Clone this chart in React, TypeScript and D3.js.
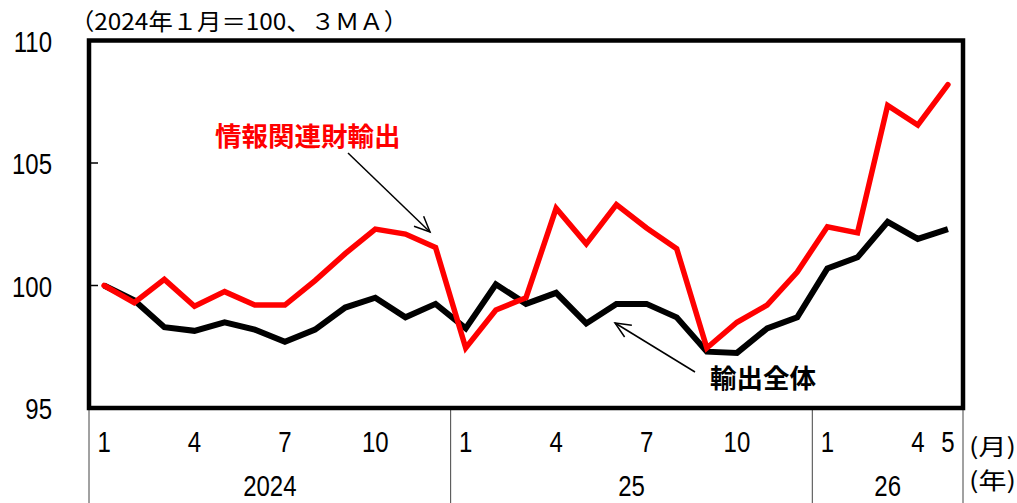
import React from "react";
import * as d3 from "d3";

const months = ["1","2","3","4","5","6","7","8","9","10","11","12","1","2","3","4","5","6","7","8","9","10","11","12","1","2","3","4","5"];
const years = ["2024","2024","2024","2024","2024","2024","2024","2024","2024","2024","2024","2024","25","25","25","25","25","25","25","25","25","25","25","25","26","26","26","26","26"];
const shownMonthLabels = [0, 3, 6, 9, 12, 15, 18, 21, 24, 27, 28];
const totalExports = [100, 99.4, 98.3, 98.15, 98.5, 98.2, 97.7, 98.2, 99.1, 99.5, 98.7, 99.25, 98.25, 100.05, 99.25, 99.7, 98.45, 99.25, 99.25, 98.7, 97.3, 97.25, 98.25, 98.7, 100.7, 101.15, 102.6, 101.9, 102.3];
const itExports = [100, 99.3, 100.25, 99.15, 99.75, 99.2, 99.2, 100.2, 101.3, 102.3, 102.1, 101.55, 97.45, 99.0, 99.5, 103.15, 101.7, 103.3, 102.35, 101.5, 97.45, 98.5, 99.2, 100.55, 102.4, 102.15, 107.35, 106.55, 108.2];
const yTicks = [95, 100, 105, 110];

const W = 1017, H = 503;
const L = 89, R = 963, T = 40.5, B = 408;
const FONT = "'Liberation Sans', Arial, sans-serif";
const CJK = "'Noto Sans CJK JP', sans-serif";

function NText({ x, y, anchor = "middle", size = 30, sx = 0.8, children }: any) {
  return (
    <text transform={`translate(${x},${y}) scale(${sx},1)`} textAnchor={anchor} fontFamily={FONT} fontSize={size} fill="#000">
      {children}
    </text>
  );
}

export default function App() {
  const idx = months.map((_, i) => i);
  const x = d3.scaleBand<number>().domain(idx).range([L, R]);
  const cx = (i: number) => (x(i) as number) + x.bandwidth() / 2;
  const y = d3.scaleLinear().domain([95, 110]).range([B, T]);
  const line = d3.line<number>().x((_, i) => cx(i)).y((v) => y(v));

  const groups: { name: string; start: number; end: number }[] = [];
  years.forEach((yr, i) => {
    const g = groups[groups.length - 1];
    if (g && g.name === yr) g.end = i;
    else groups.push({ name: yr, start: i, end: i });
  });
  const bounds = [L, ...groups.map((g) => (x(g.end) as number) + x.bandwidth())];

  const arrowHead = (x1: number, y1: number, x2: number, y2: number) => {
    const a = Math.atan2(y2 - y1, x2 - x1);
    const len = 17, sp = 0.42;
    const p1 = [x2 - len * Math.cos(a - sp), y2 - len * Math.sin(a - sp)];
    const p2 = [x2 - len * Math.cos(a + sp), y2 - len * Math.sin(a + sp)];
    return `M${p1[0]},${p1[1]}L${x2},${y2}L${p2[0]},${p2[1]}`;
  };

  return (
    <svg width={W} height={H} style={{ position: "absolute", left: 0, top: 0, background: "#fff" }}>
      <text x={70} y={30} fontFamily={CJK} fontSize={23} fill="#000" textLength={338} lengthAdjust="spacingAndGlyphs">（2024年１月＝100、３ＭＡ）</text>
      {yTicks.map((t) => (
        <g key={t}>
          <NText x={52} y={y(t) + 11} anchor="end">{t}</NText>
          <line x1={L} x2={L + 9} y1={y(t)} y2={y(t)} stroke="#000" strokeWidth={1.5} />
        </g>
      ))}
      {bounds.map((b, i) => (
        <line key={i} x1={b} x2={b} y1={B} y2={H} stroke="#444" strokeWidth={1} />
      ))}
      {shownMonthLabels.map((i) => (
        <NText key={i} x={cx(i)} y={452}>{months[i]}</NText>
      ))}
      {groups.map((g) => (
        <NText key={g.name} x={((x(g.start) as number) + (x(g.end) as number) + x.bandwidth()) / 2} y={496}>{g.name}</NText>
      ))}
      <text x={969} y={455} fontFamily={CJK} fontSize={23} fill="#000" textLength={47} lengthAdjust="spacingAndGlyphs">(月)</text>
      <text x={969} y={489} fontFamily={CJK} fontSize={23} fill="#000" textLength={47} lengthAdjust="spacingAndGlyphs">(年)</text>

      <path d={line(totalExports) || ""} fill="none" stroke="#000" strokeWidth={6} strokeLinejoin="miter" />
      <path d={line(itExports) || ""} fill="none" stroke="#ff0000" strokeWidth={5.5} strokeLinejoin="miter" strokeLinecap="round" />

      <rect x={L} y={T} width={R - L} height={B - T} fill="none" stroke="#000" strokeWidth={4.5} />

      <text x={215} y={146} fontFamily={CJK} fontWeight="bold" fontSize={26.5} fill="#ff0000">情報関連財輸出</text>
      <line x1={348} y1={153} x2={430} y2={232} stroke="#000" strokeWidth={1.5} />
      <path d={arrowHead(348, 153, 430, 232)} fill="none" stroke="#000" strokeWidth={1.5} />

      <text x={710} y={388} fontFamily={CJK} fontWeight="bold" fontSize={26.5} fill="#000">輸出全体</text>
      <line x1={695} y1={372} x2={615} y2={323} stroke="#000" strokeWidth={1.5} />
      <path d={arrowHead(695, 372, 615, 323)} fill="none" stroke="#000" strokeWidth={1.5} />
    </svg>
  );
}
